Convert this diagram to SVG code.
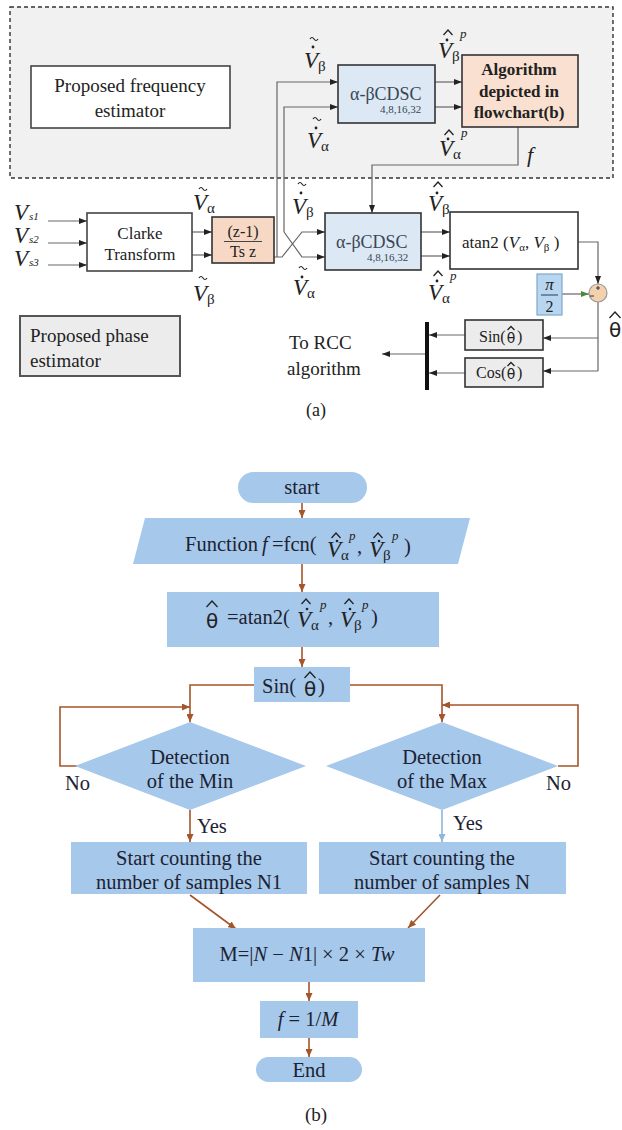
<svg xmlns="http://www.w3.org/2000/svg" width="622" height="1130" viewBox="0 0 622 1130">
<defs>
<style>
text{font-family:"Liberation Serif","Times New Roman",serif;fill:#222}
.l19{font-size:19px}
.mv{font-style:italic;font-size:23px}
.ms{font-size:15px}
.mp{font-style:italic;font-size:13px}
.th{font-family:"DejaVu Sans",sans-serif;text-anchor:middle}
.cd{font-size:18px;fill:#3a4656}
.cdsub{font-size:11px;fill:#3a4656}
.fc{font-size:20.5px;fill:#1c2233}
.mid{text-anchor:middle}
.ln{fill:none;stroke:#666;stroke-width:1.2}
.fl{fill:none;stroke:#a5552a;stroke-width:1.6}
.fcs{fill:#a6c8ea}
.box{stroke:#333;stroke-width:1.6}
.hat{fill:none;stroke:#222;stroke-width:1.3;stroke-linejoin:miter}
.tl{fill:none;stroke:#222;stroke-width:1.2}
</style>
<marker id="ah" viewBox="0 0 8 6" markerWidth="8" markerHeight="6" refX="8" refY="3" orient="auto" markerUnits="userSpaceOnUse"><path d="M0,0L8,3L0,6z" fill="#222"/></marker>
<marker id="ahg" viewBox="0 0 8 6" markerWidth="8" markerHeight="6" refX="8" refY="3" orient="auto" markerUnits="userSpaceOnUse"><path d="M0,0L8,3L0,6z" fill="#4a8a3a"/></marker>
<marker id="ahb" viewBox="0 0 8 7" markerWidth="8" markerHeight="7" refX="8" refY="3.5" orient="auto" markerUnits="userSpaceOnUse"><path d="M0,0L8,3.5L0,7z" fill="#a5552a"/></marker>
<marker id="ahl" viewBox="0 0 8 7" markerWidth="8" markerHeight="7" refX="8" refY="3.5" orient="auto" markerUnits="userSpaceOnUse"><path d="M0,0L8,3.5L0,7z" fill="#8fb6dc"/></marker>
</defs>
<rect width="622" height="1130" fill="#ffffff"/>

<g id="freq-region"><rect x="10" y="7" width="603" height="171" fill="#f1f1f1" stroke="#333" stroke-width="1.4" stroke-dasharray="4 3"/></g>

<g id="connectors-a">
<path class="ln" d="M48,221H87" marker-end="url(#ah)"/>
<path class="ln" d="M48,243H87" marker-end="url(#ah)"/>
<path class="ln" d="M48,265H87" marker-end="url(#ah)"/>
<path class="ln" d="M192,232H212" marker-end="url(#ah)"/>
<path class="ln" d="M192,255H212" marker-end="url(#ah)"/>
<path class="ln" d="M274,257H282L302,232H325" marker-end="url(#ah)"/>
<path class="ln" d="M277,257V82H338" marker-end="url(#ah)"/>
<path class="ln" d="M284,232V107H338" marker-end="url(#ah)"/>
<path class="ln" d="M284,232L302,257H325" marker-end="url(#ah)"/>
<path class="ln" d="M435,82H462" marker-end="url(#ah)"/>
<path class="ln" d="M435,107H462" marker-end="url(#ah)"/>
<path class="ln" d="M518,127V165H372V213" marker-end="url(#ah)"/>
<path class="ln" d="M421,232H450" marker-end="url(#ah)"/>
<path class="ln" d="M421,256H450" marker-end="url(#ah)"/>
<path class="ln" d="M578,242H598V284" marker-end="url(#ah)"/>
<path class="ln" d="M562,294H589" marker-end="url(#ahg)"/>
<path class="ln" d="M598,302V371"/>
<path class="ln" d="M598,338H543" marker-end="url(#ah)"/>
<path class="ln" d="M598,371H543" marker-end="url(#ah)"/>
<path class="ln" d="M465,335H429" marker-end="url(#ah)"/>
<path class="ln" d="M465,373H429" marker-end="url(#ah)"/>
<path class="ln" d="M427,354H382" marker-end="url(#ah)"/>
</g>

<g id="freq-label"><rect x="31" y="66" width="199" height="62" fill="#fff" stroke="#444" stroke-width="1.6"/>
<text class="l19 mid" x="130" y="92">Proposed frequency</text><text class="l19 mid" x="130" y="117">estimator</text></g>

<g id="cdsc-top"><rect class="box" x="338" y="65" width="97" height="58" fill="#dce8f4" stroke-width="2"/>
<text class="cd" x="350" y="100">α-βCDSC</text><text class="cdsub" x="380" y="113">4,8,16,32</text></g>

<g id="algorithm"><rect class="box" x="462" y="55" width="116" height="72" fill="#f9e0d0"/>
<text class="mid" x="519" y="75" font-size="17" font-weight="bold" fill="#3a3030">Algorithm</text>
<text class="mid" x="519" y="97" font-size="17" font-weight="bold" fill="#3a3030">depicted in</text>
<text class="mid" x="519" y="118" font-size="17" font-weight="bold" fill="#3a3030">flowchart(b)</text></g>

<g id="vs-inputs">
<text class="mv" x="14" y="220" font-size="15">V<tspan font-size="11" dx="1">s1</tspan></text>
<text class="mv" x="14" y="243" font-size="15">V<tspan font-size="11" dx="1">s2</tspan></text>
<text class="mv" x="14" y="266" font-size="15">V<tspan font-size="11" dx="1">s3</tspan></text>
</g>

<g id="clarke"><rect x="87" y="213" width="105" height="58" fill="#fff" stroke="#444" stroke-width="1.6"/>
<text class="mid" x="140" y="239" font-size="17" fill="#444">Clarke</text><text class="mid" x="140" y="260" font-size="17" fill="#444">Transform</text></g>

<g id="zbox"><rect class="box" x="212" y="217" width="62" height="46" fill="#f6d8c4"/>
<text class="mid" x="243" y="237" font-size="16" fill="#444">(z-1)</text>
<line x1="224" y1="241.5" x2="262" y2="241.5" stroke="#444" stroke-width="1.2"/>
<text class="mid" x="243" y="257" font-size="16" fill="#444">Ts z</text></g>

<g id="cdsc-low"><rect class="box" x="325" y="213" width="96" height="57" fill="#dce8f4" stroke-width="2"/>
<text class="cd" x="336" y="248">α-βCDSC</text><text class="cdsub" x="367" y="261">4,8,16,32</text></g>

<g id="atan-box"><rect class="box" x="450" y="212" width="128" height="57" fill="#fff" stroke-width="2"/>
<text x="462" y="248" font-size="17">atan2 (<tspan font-style="italic">V</tspan><tspan font-size="11" dy="3">α</tspan><tspan dy="-3">, </tspan><tspan font-style="italic">V</tspan><tspan font-size="11" dy="3">β</tspan><tspan dy="-3"> )</tspan></text></g>

<g id="pi-box"><rect x="537" y="274" width="25" height="41" fill="#b8d6f0" stroke="#7fa8cc" stroke-width="1.2"/>
<text class="mid" x="549.5" y="290" font-size="17" font-style="italic" fill="#2a3a55">π</text>
<line x1="541" y1="295" x2="558" y2="295" stroke="#2a3a55" stroke-width="1"/>
<text class="mid" x="549.5" y="312" font-size="16" fill="#2a3a55">2</text></g>

<g id="sum"><circle cx="598" cy="293" r="9" fill="#f3d0ae" stroke="#999" stroke-width="1.2"/>
<path d="M596,288H600M598,286V290M590,296H594" stroke="#333" stroke-width="1" fill="none"/></g>

<g id="theta-out"><path class="hat" d="M609.5,318L615,312L620.5,318"/><text class="th" x="615" y="337" font-size="20">θ</text></g>

<g id="sin-box"><rect class="box" x="465" y="320" width="78" height="30" fill="#ececec"/>
<text x="479" y="342" font-size="16">Sin(</text><path class="hat" stroke-width="1" d="M507.5,330L511,326.5L514.5,330"/><text class="th" x="511" y="343" font-size="14">θ</text><text x="517" y="342" font-size="16">)</text></g>

<g id="cos-box"><rect class="box" x="465" y="358" width="78" height="29" fill="#ececec"/>
<text x="476" y="378" font-size="16">Cos(</text><path class="hat" stroke-width="1" d="M507.5,366L511,362.5L514.5,366"/><text class="th" x="511" y="379" font-size="14">θ</text><text x="517" y="378" font-size="16">)</text></g>

<g id="mux"><line x1="427" y1="322" x2="427" y2="390" stroke="#111" stroke-width="4"/></g>

<g id="rcc-label"><text class="l19" x="289" y="349">To RCC</text><text class="l19" x="287" y="375">algorithm</text></g>

<g id="phase-label"><rect x="20" y="316" width="160" height="60" fill="#ececec" stroke="#555" stroke-width="2"/>
<text class="l19" x="30" y="342">Proposed phase</text><text class="l19" x="30" y="367">estimator</text></g>

<g id="signal-labels">
<g id="lbl1"><path class="tl" d="M310,39q2,-3 4,0t4,0"/><circle cx="313" cy="47" r="1.4" fill="#222"/><text class="mv" x="304" y="68">V</text><text class="ms" x="318" y="71">β</text></g>
<g id="lbl2"><path class="tl" d="M313,119q2,-3 4,0t4,0"/><circle cx="316" cy="128" r="1.4" fill="#222"/><text class="mv" x="307" y="148">V</text><text class="ms" x="321" y="151">α</text></g>
<g id="lbl3"><path class="hat" d="M443.5,35L448,30L452.5,35"/><circle cx="447" cy="40" r="1.4" fill="#222"/><text class="mv" x="438" y="58">V</text><text class="ms" x="452" y="61">β</text><text class="mp" x="460" y="38">p</text></g>
<g id="lbl4"><path class="hat" d="M444.5,135L449,130L453.5,135"/><circle cx="448" cy="139" r="1.4" fill="#222"/><text class="mv" x="439" y="156">V</text><text class="ms" x="453" y="159">α</text><text class="mp" x="461" y="137">p</text></g>
<g id="lbl-f"><text x="527" y="162" font-size="22" font-style="italic">f</text></g>
<g id="lbl6"><path class="tl" d="M199,189q2,-3 4,0t4,0"/><text class="mv" x="193" y="210">V</text><text class="ms" x="207" y="213">α</text></g>
<g id="lbl7"><path class="tl" d="M199,278q2,-3 4,0t4,0"/><text class="mv" x="193" y="301">V</text><text class="ms" x="207" y="304">β</text></g>
<g id="lbl8"><path class="tl" d="M298,184q2,-3 4,0t4,0"/><circle cx="301" cy="193" r="1.4" fill="#222"/><text class="mv" x="292" y="214">V</text><text class="ms" x="306" y="217">β</text></g>
<g id="lbl9"><path class="tl" d="M299,268q2,-3 4,0t4,0"/><circle cx="302" cy="277" r="1.4" fill="#222"/><text class="mv" x="293" y="295">V</text><text class="ms" x="307" y="298">α</text></g>
<g id="lbl10"><path class="hat" d="M433.5,187L438,182L442.5,187"/><circle cx="437" cy="193" r="1.4" fill="#222"/><text class="mv" x="428" y="211">V</text><text class="ms" x="442" y="214">β</text></g>
<g id="lbl11"><path class="hat" d="M433.5,276L438,271L442.5,276"/><circle cx="437" cy="281" r="1.4" fill="#222"/><text class="mv" x="428" y="300">V</text><text class="ms" x="442" y="303">α</text><text class="mp" x="450" y="280">p</text></g>
</g>

<g id="caption-a"><text class="mid" x="316" y="416" font-size="18">(a)</text></g>

<g id="connectors-b">
<path class="fl" d="M302,503V518" marker-end="url(#ahb)"/>
<path class="fl" d="M302,564V592" marker-end="url(#ahb)"/>
<path class="fl" d="M302,647V667" marker-end="url(#ahb)"/>
<path class="fl" d="M254,685H190V722" marker-end="url(#ahb)"/>
<path class="fl" d="M350,685H442V722" marker-end="url(#ahb)"/>
<path class="fl" d="M77,766H60V707H190" marker-end="url(#ahb)"/>
<path class="fl" d="M558,766H578V705H442" marker-end="url(#ahb)"/>
<path class="fl" d="M190,810V842" marker-end="url(#ahb)"/>
<path fill="none" stroke="#8fb6dc" stroke-width="1.6" d="M442,810V842" marker-end="url(#ahl)"/>
<path class="fl" d="M190,895L236,929" marker-end="url(#ahb)"/>
<path class="fl" d="M440,895L408,928" marker-end="url(#ahb)"/>
<path class="fl" d="M309,982V1001" marker-end="url(#ahb)"/>
<path class="fl" d="M309,1038V1057" marker-end="url(#ahb)"/>
</g>

<g id="start"><rect class="fcs" x="238" y="472" width="129" height="31" rx="15.5"/><text class="fc mid" x="302" y="494" font-size="23">start</text></g>

<g id="function"><polygon class="fcs" points="145,518 470,518 458,564 133,564"/>
<text class="fc" x="185" y="551" font-size="21.5"><tspan>Function</tspan><tspan x="262" font-style="italic">f</tspan><tspan x="272">=fcn(</tspan></text>
<path class="hat" d="M331.5,538L336,533L340.5,538"/><circle cx="337" cy="541" r="1.3" fill="#1c2233"/><text class="mv" x="327" y="557" font-size="21">V</text><text class="ms" x="341" y="560" font-size="14">α</text><text class="mp" x="349" y="540" font-size="12">p</text>
<text class="fc" x="357" y="553">,</text>
<path class="hat" d="M373.5,538L378,533L382.5,538"/><circle cx="379" cy="541" r="1.3" fill="#1c2233"/><text class="mv" x="369" y="557" font-size="21">V</text><text class="ms" x="383" y="560" font-size="14">β</text><text class="mp" x="392" y="540" font-size="12">p</text>
<text class="fc" x="404" y="553">)</text></g>

<g id="atan2"><rect class="fcs" x="167" y="592" width="272" height="55"/>
<path class="hat" stroke="#1c2233" d="M206.5,607L212,601L217.5,607"/><text class="th" x="212" y="628" font-size="20" fill="#1c2233">θ</text>
<text class="fc" x="227" y="624">=atan2(</text>
<path class="hat" d="M301.5,604L306,599L310.5,604"/><circle cx="307" cy="609" r="1.3" fill="#1c2233"/><text class="mv" x="297" y="627" font-size="21">V</text><text class="ms" x="311" y="630" font-size="14">α</text><text class="mp" x="320" y="609" font-size="12">p</text>
<text class="fc" x="328" y="624">,</text>
<path class="hat" d="M344.5,604L349,599L353.5,604"/><circle cx="350" cy="609" r="1.3" fill="#1c2233"/><text class="mv" x="340" y="627" font-size="21">V</text><text class="ms" x="354" y="630" font-size="14">β</text><text class="mp" x="362" y="609" font-size="12">p</text>
<text class="fc" x="371" y="624">)</text></g>

<g id="sin"><rect class="fcs" x="254" y="667" width="96" height="35"/>
<text class="fc" x="262" y="693" font-size="23">Sin(</text><path class="hat" stroke="#1c2233" d="M304.5,678L310,672L315.5,678"/><text class="th" x="310" y="696" font-size="20" fill="#1c2233">θ</text><text class="fc" x="318" y="693" font-size="23">)</text></g>

<g id="det-min"><polygon class="fcs" points="190,722 306,766 190,810 75,766"/>
<text class="fc mid" x="190" y="764">Detection</text><text class="fc mid" x="190" y="788">of the Min</text></g>

<g id="det-max"><polygon class="fcs" points="442,722 558,766 442,810 326,766"/>
<text class="fc mid" x="442" y="764">Detection</text><text class="fc mid" x="442" y="788">of the Max</text></g>

<g id="flow-labels">
<text class="fc" x="65" y="790" font-size="20">No</text>
<text class="fc" x="546" y="790" font-size="20">No</text>
<text class="fc" x="197" y="833" font-size="20">Yes</text>
<text class="fc" x="453" y="830" font-size="20">Yes</text>
</g>

<g id="count-n1"><rect class="fcs" x="71" y="842" width="236" height="52"/>
<text class="fc mid" x="189" y="865" font-size="20">Start counting  the</text><text class="fc mid" x="189" y="889" font-size="20">number of samples N1</text></g>

<g id="count-n"><rect class="fcs" x="319" y="842" width="247" height="52"/>
<text class="fc mid" x="442" y="865" font-size="20">Start counting  the</text><text class="fc mid" x="442" y="889" font-size="20">number of samples N</text></g>

<g id="m-box"><rect class="fcs" x="193" y="928" width="232" height="54"/>
<text class="fc mid" x="307" y="961" font-size="18">M=|<tspan font-style="italic">N</tspan> − <tspan font-style="italic">N</tspan>1| × 2 × <tspan font-style="italic">Tw</tspan></text></g>

<g id="f-box"><rect class="fcs" x="260" y="1001" width="98" height="37"/>
<text class="fc mid" x="308" y="1026" font-size="18"><tspan font-style="italic">f</tspan> = 1/<tspan font-style="italic">M</tspan></text></g>

<g id="end"><rect class="fcs" x="256" y="1057" width="106" height="25" rx="12.5"/><text class="fc mid" x="309" y="1077" font-size="23">End</text></g>

<g id="caption-b"><text class="mid" x="316" y="1121" font-size="19">(b)</text></g>
</svg>
